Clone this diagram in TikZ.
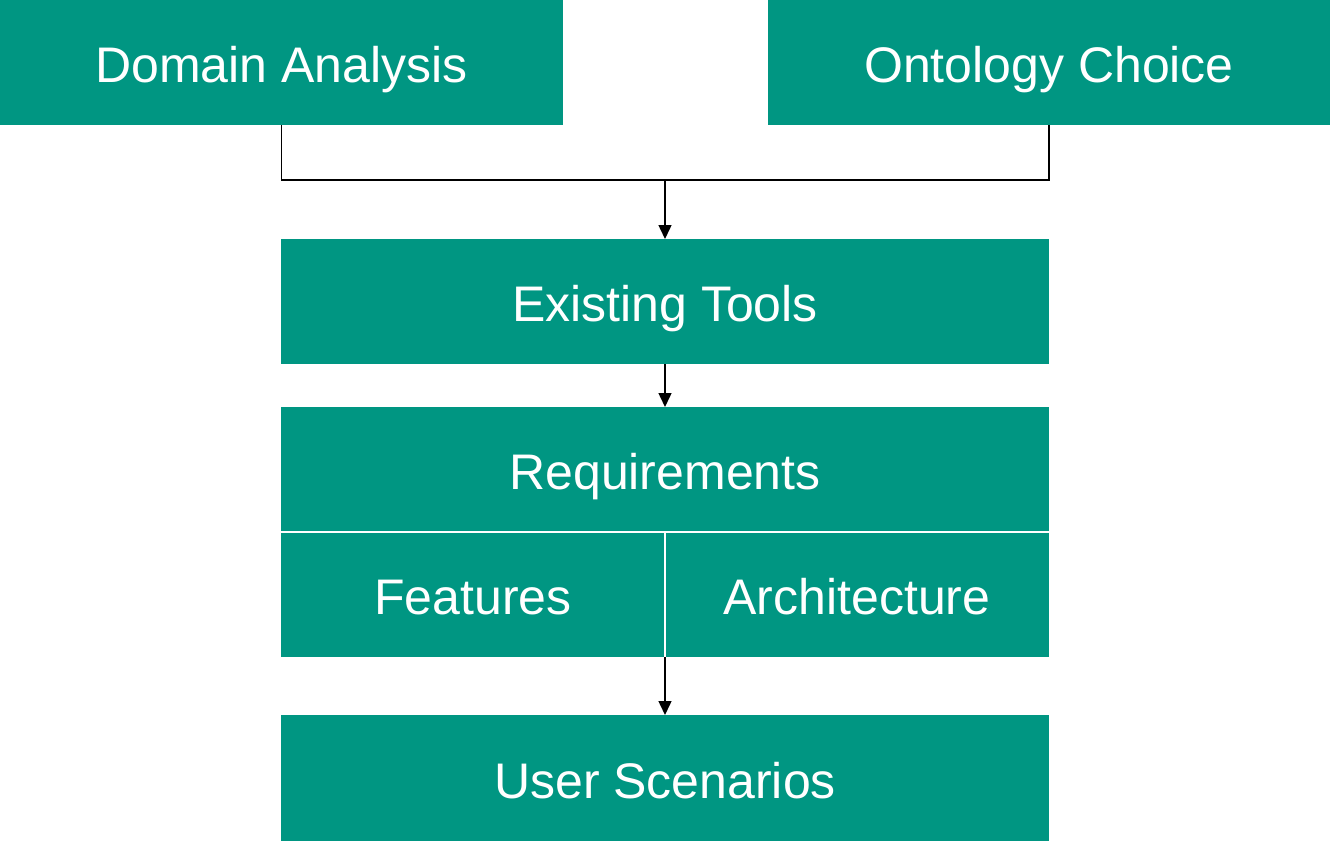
\documentclass[tikz,border=0pt]{standalone}
\usepackage{fontspec}
\setmainfont{Liberation Sans}
\usetikzlibrary{arrows.meta}
\definecolor{teal1}{RGB}{0,150,130}
\begin{document}
\begin{tikzpicture}[x=0.5pt,y=-0.5pt,
  box/.style={fill=teal1,draw=none,text=white,inner sep=0pt,outer sep=0pt,
    font=\fontsize{25pt}{30pt}\selectfont,anchor=center,
    text height=20pt,text depth=0pt},
  conn/.style={line width=0.75pt,draw=black},
  arr/.style={conn,-{Triangle[length=7pt,width=6.5pt]}},
  sep/.style={draw=white,line width=1pt}]
\useasboundingbox (0,0) rectangle (1330,841);
\node[box,minimum width=281.5pt,minimum height=62.5pt] (dom) at (281.5,62.5) {Domain Analysis};
\node[box,minimum width=281pt,minimum height=62.5pt] (ont) at (1049,62.5) {Ontology Choice};
\node[box,minimum width=384pt,minimum height=62.5pt] (ex) at (665,301.5) {Existing Tools};
\node[box,minimum width=384pt,minimum height=62.5pt] (req) at (665,469.5) {Requirements};
\node[box,minimum width=192pt,minimum height=62.5pt] (fea) at (473,594.5) {Features};
\node[box,minimum width=192pt,minimum height=62.5pt] (arc) at (857,594.5) {Architecture};
\node[box,minimum width=384pt,minimum height=63pt] (us) at (665,778) {User Scenarios};
\draw[sep] (req.south west) -- (req.south east);
\draw[sep] (fea.north east) -- (fea.south east);
\coordinate (j) at (665,180);
\coordinate (k) at (665,657);
\draw[conn] (dom.south) |- (j) -| (ont.south);
\draw[arr] (j) -- (ex.north);
\draw[arr] (ex.south) -- (req.north);
\draw[arr] (k) -- (us.north);
\end{tikzpicture}
\end{document}
